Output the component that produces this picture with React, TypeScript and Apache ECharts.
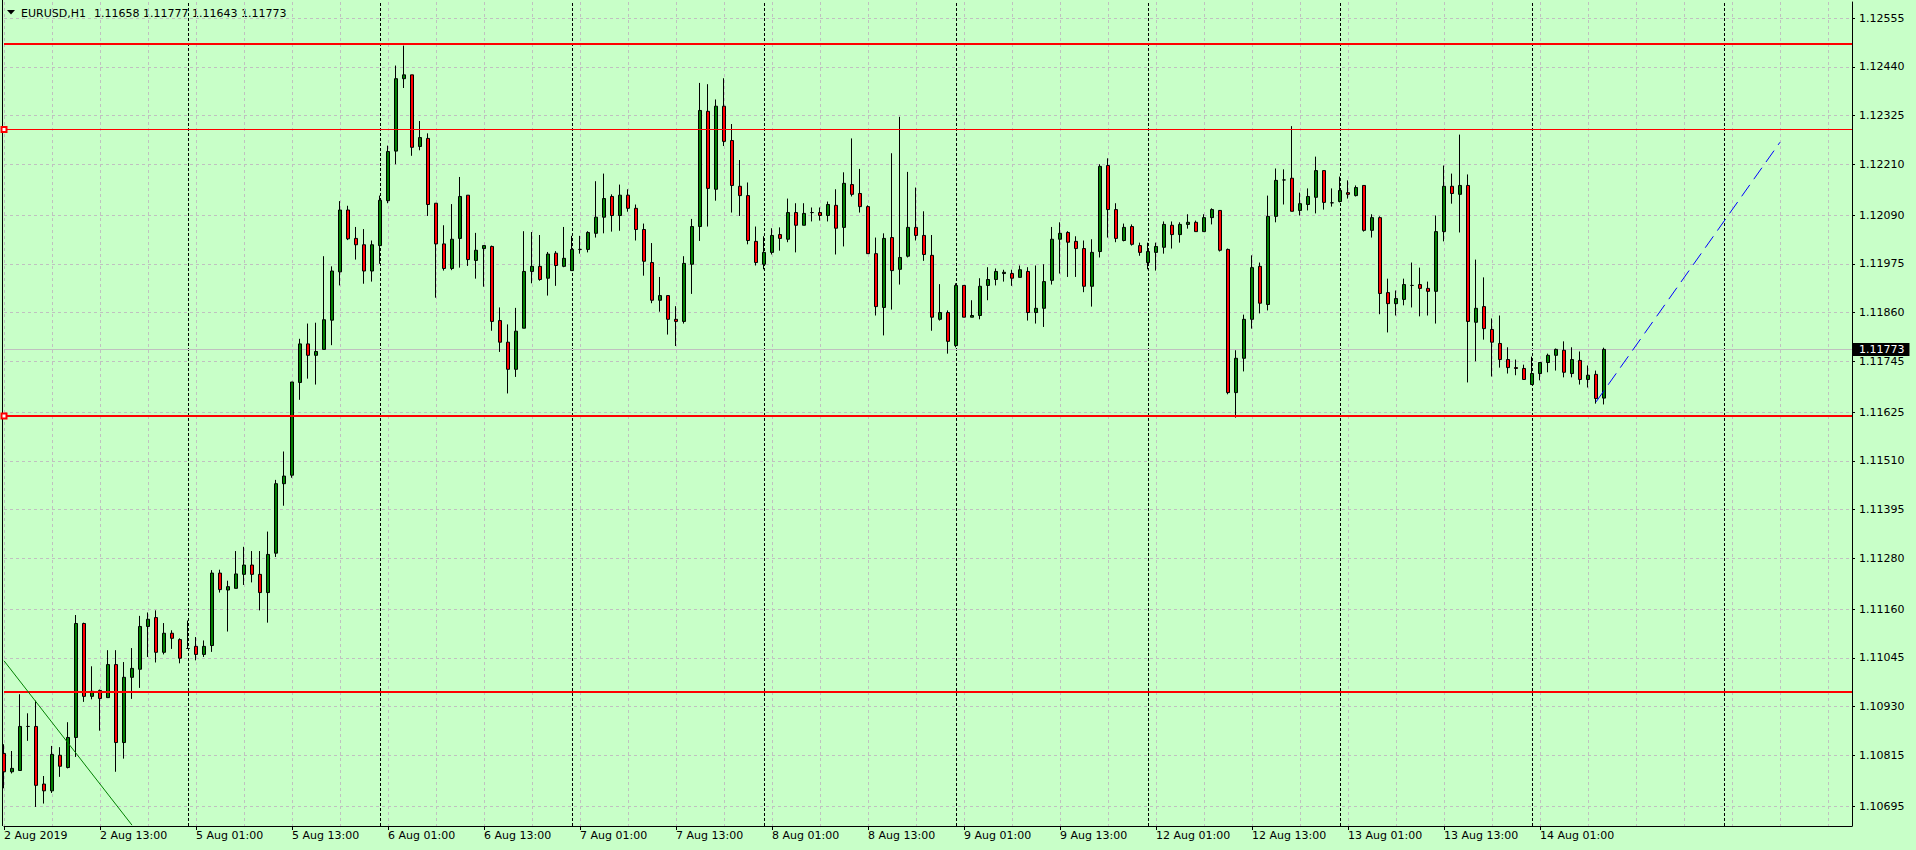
import React, { useEffect, useRef } from "react";
import * as echarts from "echarts";

const symbolName = "EURUSD,H1";

const opens = [
  1.10819, 1.10776, 1.10779, 1.10883, 1.10883, 1.10747, 1.10731, 1.10815, 1.10786, 1.10857,
  1.11126, 1.10954, 1.10968, 1.10951, 1.11029, 1.10845, 1.10999, 1.11018, 1.11119, 1.1114,
  1.11058, 1.11103, 1.11088, 1.11067, 1.11072, 1.11053, 1.11074, 1.11245, 1.11205, 1.11209,
  1.11242, 1.11264, 1.11242, 1.11199, 1.11292, 1.11456, 1.11476, 1.11695, 1.11786, 1.11759,
  1.11773, 1.11842, 1.11956, 1.12102, 1.12035, 1.1202, 1.11958, 1.12018, 1.12124, 1.12241,
  1.12412, 1.12421, 1.12252, 1.12271, 1.12118, 1.12022, 1.11964, 1.12035, 1.12137, 1.11983,
  1.12011, 1.12016, 1.11841, 1.1179, 1.11726, 1.11823, 1.11957, 1.11969, 1.11941, 1.12,
  1.11969, 1.11959, 1.12009, 1.12009, 1.12047, 1.12085, 1.12134, 1.12089, 1.12137, 1.12106,
  1.12056, 1.11978, 1.11889, 1.119, 1.11844, 1.11839, 1.11974, 1.12063, 1.12335, 1.12151,
  1.12347, 1.12266, 1.12158, 1.12136, 1.12028, 1.11974, 1.12002, 1.12044, 1.12033, 1.12096,
  1.12066, 1.12096, 1.12096, 1.12089, 1.12113, 1.12061, 1.12162, 1.12141, 1.1211, 1.11999,
  1.11872, 1.12037, 1.11962, 1.11993, 1.12061, 1.12042, 1.11995, 1.11844, 1.1186, 1.11782,
  1.11924, 1.11849, 1.11853, 1.11924, 1.11938, 1.11952, 1.11952, 1.11943, 1.11957, 1.1186,
  1.1187, 1.11936, 1.12033, 1.12049, 1.12028, 1.12011, 1.11922, 1.12004, 1.12207, 1.12103,
  1.1203, 1.12063, 1.12018, 1.11978, 1.12002, 1.12014, 1.12066, 1.12044, 1.12068, 1.12073,
  1.12051, 1.12084, 1.12101, 1.12009, 1.11671, 1.11752, 1.11844, 1.11969, 1.11879, 1.12087,
  1.12173, 1.12177, 1.12101, 1.12115, 1.12132, 1.12195, 1.12119, 1.12122, 1.12143, 1.12136,
  1.1216, 1.12054, 1.12084, 1.11907, 1.11881, 1.11891, 1.11924, 1.11926, 1.11917, 1.1191,
  1.12051, 1.12158, 1.12139, 1.1216, 1.11837, 1.11874, 1.1182, 1.11787, 1.11749, 1.1173,
  1.11728, 1.1169, 1.11716, 1.11742, 1.11759, 1.11771, 1.11716, 1.11747, 1.11702, 1.11714,
  1.11658,
];

const highs = [
  1.10841, 1.10825, 1.10959, 1.10914, 1.10944, 1.10766, 1.10837, 1.10834, 1.10893, 1.11146,
  1.11128, 1.11025, 1.1097, 1.11063, 1.11063, 1.11035, 1.11068, 1.11144, 1.11152, 1.11157,
  1.11127, 1.1111, 1.11091, 1.11133, 1.11094, 1.11086, 1.11252, 1.11253, 1.11227, 1.11297,
  1.11307, 1.11297, 1.11297, 1.11343, 1.11465, 1.11532, 1.11696, 1.11798, 1.11834, 1.11836,
  1.11993, 1.11969, 1.12123, 1.12112, 1.12062, 1.12057, 1.1203, 1.12136, 1.12254, 1.12443,
  1.1249, 1.12421, 1.12312, 1.12283, 1.12118, 1.12066, 1.12116, 1.1218, 1.12137, 1.12048,
  1.12018, 1.12018, 1.11872, 1.11832, 1.11871, 1.12052, 1.1205, 1.12043, 1.12003, 1.12005,
  1.12062, 1.12041, 1.12041, 1.12052, 1.1217, 1.12188, 1.12139, 1.12162, 1.12151, 1.12115,
  1.1207, 1.12024, 1.11944, 1.119, 1.11875, 1.11993, 1.12081, 1.12402, 1.12399, 1.12363,
  1.12413, 1.12305, 1.1222, 1.12167, 1.12063, 1.1204, 1.12059, 1.12061, 1.12129, 1.12118,
  1.12118, 1.12108, 1.12108, 1.12122, 1.12151, 1.12191, 1.12271, 1.12199, 1.12113, 1.12037,
  1.12047, 1.12236, 1.12322, 1.12192, 1.12155, 1.12099, 1.12043, 1.11927, 1.11865, 1.11929,
  1.11924, 1.11889, 1.11941, 1.11967, 1.11964, 1.11961, 1.11961, 1.11971, 1.11967, 1.11971,
  1.11974, 1.12062, 1.12073, 1.12052, 1.1204, 1.1203, 1.12033, 1.1221, 1.12224, 1.12118,
  1.1207, 1.12068, 1.12025, 1.12025, 1.12025, 1.12075, 1.12075, 1.12073, 1.12092, 1.12077,
  1.12092, 1.12106, 1.12101, 1.12011, 1.11771, 1.11855, 1.11995, 1.11978, 1.12136, 1.122,
  1.12198, 1.123, 1.12143, 1.12153, 1.12228, 1.12195, 1.12153, 1.12181, 1.12172, 1.1216,
  1.1216, 1.12092, 1.12087, 1.1194, 1.11912, 1.1194, 1.11978, 1.11966, 1.11933, 1.12089,
  1.12207, 1.12188, 1.1228, 1.12186, 1.11985, 1.11943, 1.11846, 1.11853, 1.11778, 1.11749,
  1.11737, 1.11756, 1.11742, 1.11763, 1.11775, 1.11792, 1.11778, 1.11768, 1.11735, 1.11723,
  1.11777,
];

const lows = [
  1.10737, 1.10772, 1.10779, 1.10849, 1.10693, 1.10701, 1.10726, 1.10764, 1.10784, 1.10811,
  1.10941, 1.10947, 1.10873, 1.10951, 1.10776, 1.10807, 1.10948, 1.10974, 1.11047, 1.11034,
  1.11053, 1.11066, 1.11032, 1.11067, 1.11039, 1.11047, 1.11059, 1.11199, 1.11107, 1.11209,
  1.11217, 1.11223, 1.11157, 1.11128, 1.11283, 1.11404, 1.1147, 1.11654, 1.11704, 1.1169,
  1.11773, 1.11783, 1.11924, 1.12031, 1.11985, 1.11928, 1.11933, 1.11975, 1.12118, 1.1221,
  1.1239, 1.1223, 1.12243, 1.12088, 1.11895, 1.11959, 1.1196, 1.11966, 1.1197, 1.1194,
  1.11921, 1.11817, 1.11767, 1.11669, 1.11708, 1.11823, 1.11929, 1.11935, 1.119, 1.11923,
  1.11967, 1.11959, 1.11999, 1.12002, 1.12037, 1.12047, 1.12051, 1.12053, 1.12098, 1.1203,
  1.11947, 1.11882, 1.11862, 1.11808, 1.11781, 1.11834, 1.11904, 1.12029, 1.12063, 1.12124,
  1.12253, 1.12096, 1.12088, 1.12021, 1.11971, 1.11962, 1.11997, 1.12006, 1.12026, 1.12002,
  1.12066, 1.12075, 1.12077, 1.12075, 1.11997, 1.12016, 1.12134, 1.12096, 1.11999, 1.11853,
  1.11806, 1.11867, 1.11926, 1.1199, 1.1203, 1.11982, 1.11817, 1.11841, 1.11763, 1.11778,
  1.11849, 1.11849, 1.11844, 1.11889, 1.11924, 1.11933, 1.11923, 1.11943, 1.11841, 1.11834,
  1.11826, 1.11926, 1.11952, 1.11944, 1.11944, 1.11908, 1.11874, 1.1199, 1.12037, 1.12026,
  1.12028, 1.12018, 1.11994, 1.11962, 1.11959, 1.11999, 1.12011, 1.12025, 1.12058, 1.12051,
  1.12051, 1.12068, 1.12004, 1.11667, 1.11612, 1.11721, 1.11822, 1.11858, 1.11865, 1.12073,
  1.12115, 1.12099, 1.12089, 1.12101, 1.12094, 1.12103, 1.1211, 1.1212, 1.12129, 1.12134,
  1.12051, 1.12037, 1.11856, 1.11813, 1.11853, 1.11877, 1.11872, 1.11851, 1.11853, 1.11834,
  1.12028, 1.12117, 1.12049, 1.11695, 1.11745, 1.11796, 1.11709, 1.1173, 1.11716, 1.11712,
  1.11702, 1.1169, 1.117, 1.11719, 1.11723, 1.11707, 1.11707, 1.1169, 1.11683, 1.11645,
  1.11643,
];

const closes = [
  1.10776, 1.10784, 1.10883, 1.10883, 1.10744, 1.10731, 1.10817, 1.10789, 1.10857, 1.11126,
  1.10954, 1.10966, 1.10949, 1.11029, 1.10845, 1.10999, 1.1102, 1.11119, 1.11136, 1.11058,
  1.11103, 1.11091, 1.11044, 1.11067, 1.11053, 1.11072, 1.11245, 1.11206, 1.11213, 1.11243,
  1.11264, 1.11242, 1.11199, 1.11289, 1.11456, 1.11474, 1.11696, 1.11786, 1.11759, 1.11768,
  1.11843, 1.11958, 1.12102, 1.12034, 1.1202, 1.11958, 1.1202, 1.12125, 1.1224, 1.12412,
  1.12421, 1.1225, 1.12273, 1.12115, 1.12022, 1.11964, 1.12033, 1.12134, 1.11985, 1.12007,
  1.12018, 1.11839, 1.1179, 1.11726, 1.11816, 1.11957, 1.11969, 1.11938, 1.11998, 1.11971,
  1.11988, 1.12009, 1.12009, 1.12049, 1.12085, 1.12129, 1.12089, 1.12137, 1.12106, 1.12056,
  1.11981, 1.11889, 1.119, 1.11844, 1.11839, 1.11976, 1.12063, 1.12337, 1.12153, 1.12347,
  1.12264, 1.1216, 1.12136, 1.1203, 1.11978, 1.12002, 1.12042, 1.12035, 1.12096, 1.12066,
  1.12094, 1.12096, 1.12089, 1.12115, 1.12059, 1.12165, 1.12139, 1.1211, 1.11999, 1.11874,
  1.12035, 1.11959, 1.1199, 1.12061, 1.12042, 1.11997, 1.11849, 1.1186, 1.11792, 1.11924,
  1.11849, 1.11853, 1.11922, 1.11938, 1.11957, 1.11955, 1.11941, 1.11961, 1.1186, 1.1187,
  1.11933, 1.12033, 1.12047, 1.12026, 1.12011, 1.11922, 1.12002, 1.12205, 1.12103, 1.12035,
  1.12061, 1.12021, 1.12002, 1.12004, 1.12016, 1.12068, 1.12044, 1.12068, 1.12073, 1.12051,
  1.12084, 1.12103, 1.12007, 1.11671, 1.11752, 1.11844, 1.11966, 1.11882, 1.12087, 1.12172,
  1.12173, 1.12099, 1.12117, 1.12134, 1.12195, 1.1212, 1.12119, 1.12148, 1.12139, 1.12155,
  1.12054, 1.12084, 1.11905, 1.11881, 1.11893, 1.11926, 1.11924, 1.11917, 1.1191, 1.12051,
  1.12158, 1.12141, 1.1216, 1.11839, 1.1187, 1.11822, 1.1179, 1.11749, 1.1173, 1.11728,
  1.11702, 1.11716, 1.11742, 1.11759, 1.11773, 1.11719, 1.11749, 1.11702, 1.11712, 1.11657,
  1.11773,
];

// Trading days shown (H1 bars), first day starts at 01:00
const tradingDays = ["2 Aug", "5 Aug", "6 Aug", "7 Aug", "8 Aug", "9 Aug", "12 Aug", "13 Aug", "14 Aug", "15 Aug"];
const firstLabel = "2 Aug 2019";
const futureBars = 31;

// Price-scale tick labels as printed on the right axis
const yTickLabels = [
  "1.12555", "1.12440", "1.12325", "1.12210", "1.12090", "1.11975", "1.11860", "1.11745",
  "1.11625", "1.11510", "1.11395", "1.11280", "1.11160", "1.11045", "1.10930", "1.10815", "1.10695",
];
const yMin = 1.10648;
const yMax = 1.12593;

// Horizontal red levels
const levelTop = 1.12494;
const levelMidHigh = 1.12292;
const levelSupport = 1.11616;
const levelLow = 1.10965;

// Trend lines: [barIndex, price]
const greenTrend = [
  [0, 1.11038],
  [16, 1.1065],
];
const blueTrend = [
  [199, 1.11649],
  [222, 1.12262],
];

// Day separator bar indexes (00:00 of each day)
const daySeparators = [23, 47, 71, 95, 119, 143, 167, 191, 215];

const FONT = "DejaVu Sans";

function buildCategories(): string[] {
  const total = opens.length + futureBars;
  const out: string[] = [];
  for (let d = 0; d < tradingDays.length && out.length < total; d++) {
    for (let h = d === 0 ? 1 : 0; h < 24 && out.length < total; h++) {
      out.push(`${tradingDays[d]} ${String(h).padStart(2, "0")}:00`);
    }
  }
  return out;
}

export default function App() {
  const ref = useRef<HTMLDivElement>(null);
  useEffect(() => {
    if (!ref.current) return;
    const chart = echarts.init(ref.current, null, { renderer: "svg" });
    const categories = buildCategories();
    const lastIdx = opens.length - 1;
    const candles = opens.map((o, i) => [o, closes[i], lows[i], highs[i]]);
    const yTicks = yTickLabels.map((s) => parseFloat(s));
    const lastClose = closes[lastIdx];
    const labelShown = (i: number) => i % 12 === 0 && i <= lastIdx;

    const option: any = {
      animation: false,
      backgroundColor: "#c8ffc8",
      textStyle: { fontFamily: FONT },
      grid: { left: 4, right: 64, top: 2, bottom: 24, containLabel: false },
      xAxis: {
        type: "category",
        data: categories,
        boundaryGap: false,
        axisLine: { show: true, onZero: false, lineStyle: { color: "#000", width: 1 } },
        axisTick: {
          show: true,
          interval: (i: number) => labelShown(i),
          length: 4,
          lineStyle: { color: "#000" },
        },
        axisLabel: {
          interval: (i: number) => labelShown(i),
          formatter: (v: string, i: number) => (i === 0 ? firstLabel : v),
          align: "left",
          margin: 4,
          fontSize: 11,
          fontFamily: FONT,
          color: "#000",
        },
        splitLine: {
          show: true,
          interval: (i: number) => i % 6 === 0,
          lineStyle: { color: "#c0c0c0", type: [3, 3], width: 1 },
        },
      },
      yAxis: {
        type: "value",
        position: "right",
        min: yMin,
        max: yMax,
        scale: true,
        axisLine: { show: true, lineStyle: { color: "#000", width: 1 } },
        axisTick: {
          show: true,
          customValues: yTicks,
          length: 3,
          lineStyle: { color: "#000" },
        },
        axisLabel: {
          customValues: yTicks,
          formatter: (v: number) => v.toFixed(5),
          margin: 7,
          fontSize: 11,
          fontFamily: FONT,
          color: "#000",
        },
        splitLine: { show: false },
      },
      graphic: [
        {
          type: "line",
          shape: { x1: 2.5, y1: 0, x2: 2.5, y2: 826 },
          style: { stroke: "#000", lineWidth: 1 },
          silent: true,
        },
        {
          type: "polygon",
          shape: { points: [[7, 10], [15, 10], [11, 14.5]] },
          style: { fill: "#000" },
          silent: true,
        },
        {
          type: "text",
          x: 21,
          y: 13,
          style: { text: symbolName, fill: "#000", fontSize: 11, fontFamily: FONT, verticalAlign: "middle" },
          silent: true,
        },
        {
          type: "text",
          x: 94,
          y: 13,
          style: {
            text: [opens[lastIdx], highs[lastIdx], lows[lastIdx], closes[lastIdx]].map((v) => v.toFixed(5)).join(" "),
            fill: "#000",
            fontSize: 11,
            fontFamily: FONT,
            verticalAlign: "middle",
          },
          silent: true,
        },
      ],
      series: [
        {
          type: "line",
          name: "bg",
          data: [],
          z: 1,
          silent: true,
          markLine: {
            z: 1,
            silent: true,
            precision: 6,
            symbol: "none",
            animation: false,
            label: { show: false },
            data: [
              ...yTicks.map((v) => ({
                yAxis: v,
                lineStyle: { color: "#c0c0c0", type: [3, 3], width: 1 },
              })),
              ...daySeparators.map((i) => ({
                xAxis: i,
                lineStyle: { color: "#000", type: [3, 2], width: 1 },
              })),
              {
                yAxis: lastClose,
                lineStyle: { color: "#c0c0c0", type: "solid", width: 1 },
                label: {
                  show: true,
                  position: "end",
                  distance: 1,
                  formatter: lastClose.toFixed(5),
                  backgroundColor: "#000",
                  color: "#fff",
                  fontSize: 11,
                  fontFamily: FONT,
                  lineHeight: 12,
                  padding: [1, 5, 0, 6],
                },
              },
            ],
          },
        },
        {
          type: "candlestick",
          name: symbolName,
          data: candles,
          z: 3,
          barWidth: 4,
          clip: false,
          itemStyle: {
            color: "#008000",
            color0: "#ff0000",
            borderColor: "#000",
            borderColor0: "#000",
            borderColorDoji: "#000",
            borderWidth: 1,
          },
          markLine: {
            z: 5,
            silent: true,
            precision: 6,
            symbol: "none",
            animation: false,
            label: { show: false },
            data: [
              { yAxis: levelTop, lineStyle: { color: "#ff0000", width: 2, type: "solid" } },
              {
                yAxis: levelMidHigh,
                symbol: "emptyRect",
                symbolSize: 5,
                lineStyle: { color: "#ff0000", width: 1, type: "solid" },
              },
              {
                yAxis: levelSupport,
                symbol: "emptyRect",
                symbolSize: 5,
                lineStyle: { color: "#ff0000", width: 2, type: "solid" },
              },
              { yAxis: levelLow, lineStyle: { color: "#ff0000", width: 2, type: "solid" } },
              [
                { coord: greenTrend[0], lineStyle: { color: "#008000", width: 1, type: "solid" } },
                { coord: greenTrend[1] },
              ],
              [
                { coord: blueTrend[0], lineStyle: { color: "#0000ff", width: 1, type: [14, 7] } },
                { coord: blueTrend[1] },
              ],
            ],
          },
        },
      ],
    };
    chart.setOption(option);
    return () => chart.dispose();
  }, []);
  return (
    <div
      ref={ref}
      style={{ position: "fixed", left: 0, top: 0, width: 1916, height: 850 }}
    />
  );
}
